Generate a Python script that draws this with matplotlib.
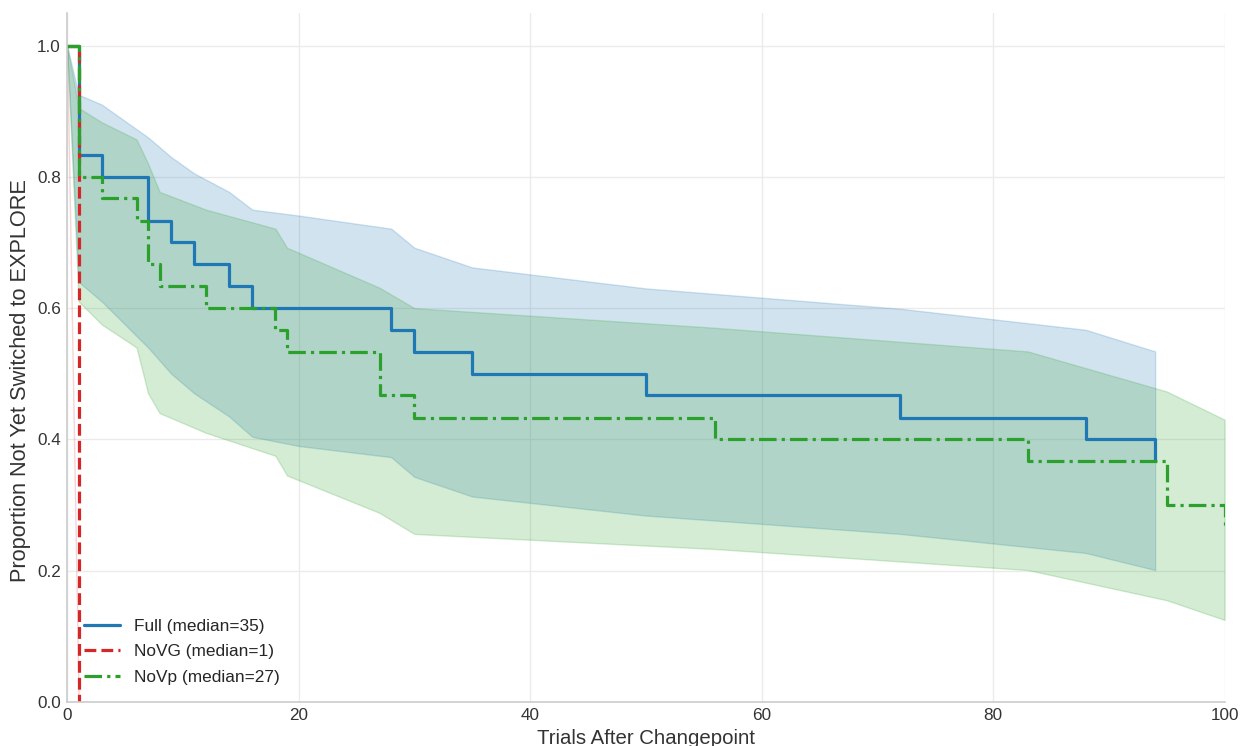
import matplotlib
matplotlib.use("Agg")
import matplotlib.pyplot as plt
import numpy as np
import seaborn as sns

# Kaplan-Meier estimates: step times and survival after each step
full_t = [0, 1, 3, 7, 9, 11, 14, 16, 28, 30, 35, 50, 72, 88, 94]
full_s = [1.0, 0.833, 0.8, 0.733, 0.7, 0.667, 0.633, 0.6, 0.567, 0.533, 0.5, 0.467, 0.433, 0.4, 0.367]

novg_t = [0, 1]
novg_s = [1.0, 0.0]

novp_t = [0, 1, 3, 6, 7, 8, 12, 18, 19, 27, 30, 56, 83, 95, 100]
novp_s = [1.0, 0.8, 0.767, 0.733, 0.667, 0.633, 0.6, 0.567, 0.533, 0.467, 0.433, 0.4, 0.367, 0.3, 0.267]

# 95% confidence band vertices (at event times)
full_ci_t = [0, 1, 3, 7, 9, 11, 14, 16, 20, 28, 30, 35, 50, 72, 88, 94]
full_ci_hi = [1.0, 0.925, 0.91, 0.86, 0.83, 0.805, 0.777, 0.75, 0.741, 0.721, 0.692, 0.662, 0.63, 0.599, 0.567, 0.534]
full_ci_lo = [1.0, 0.64, 0.61, 0.54, 0.50, 0.47, 0.435, 0.404, 0.39, 0.373, 0.343, 0.313, 0.284, 0.256, 0.227, 0.201]

novg_ci_t = [0, 1]
novg_ci_hi = [1.0, 0.0]
novg_ci_lo = [1.0, 0.0]

novp_ci_t = [0, 1, 3, 6, 7, 8, 12, 18, 19, 27, 30, 56, 83, 95, 100]
novp_ci_hi = [1.0, 0.905, 0.883, 0.857, 0.82, 0.777, 0.75, 0.721, 0.692, 0.631, 0.6, 0.57, 0.534, 0.473, 0.43]
novp_ci_lo = [1.0, 0.61, 0.575, 0.54, 0.47, 0.44, 0.41, 0.375, 0.345, 0.288, 0.256, 0.233, 0.201, 0.155, 0.125]

medians = {"Full": 35, "NoVG": 1, "NoVp": 27}

sns.set_style("whitegrid")
plt.rcParams["font.family"] = ["Liberation Sans", "DejaVu Sans"]

fig = plt.figure(figsize=(12.42, 7.46), dpi=100)
ax = fig.add_axes([0.054, 0.059, 0.932, 0.924])

blue, red, green = "#1f77b4", "#d62728", "#2ca02c"

ax.fill_between(full_ci_t, full_ci_lo, full_ci_hi, color=blue, alpha=0.2)
ax.fill_between(novg_ci_t, novg_ci_lo, novg_ci_hi, color=red, alpha=0.2)
ax.fill_between(novp_ci_t, novp_ci_lo, novp_ci_hi, color=green, alpha=0.2)

ax.step(full_t, full_s, where="post", color=blue, lw=2.3, ls="-",
        label=f"Full (median={medians['Full']})")
ax.step(novg_t, novg_s, where="post", color=red, lw=2.3, ls="--",
        label=f"NoVG (median={medians['NoVG']})")
ax.step(novp_t, novp_s, where="post", color=green, lw=2.3,
        dashes=(5.5, 1.6, 1.0, 1.6),
        label=f"NoVp (median={medians['NoVp']})")

ax.set_xlim(0, 100)
ax.set_ylim(0, 1.05)
ax.set_xticks(np.arange(0, 101, 20))
ax.set_yticks(np.arange(0, 1.01, 0.2))
ax.tick_params(labelsize=12.3, colors="#333333", pad=1)
ax.set_xlabel("Trials After Changepoint", fontsize=14.7, color="#333333", labelpad=4)
ax.set_ylabel("Proportion Not Yet Switched to EXPLORE", fontsize=15.7, color="#333333")
ax.yaxis.set_label_coords(-0.031, 0.466)

ax.grid(True, color="#ebebeb", lw=1)
sns.despine(ax=ax)
for s in ["left", "bottom"]:
    ax.spines[s].set_color("#cccccc")
    ax.spines[s].set_linewidth(1.2)

ax.legend(loc="lower left", frameon=False, fontsize=12.4, handlelength=2.1,
          labelspacing=0.6, borderaxespad=0.6)

fig.savefig("out.png", dpi=100)
